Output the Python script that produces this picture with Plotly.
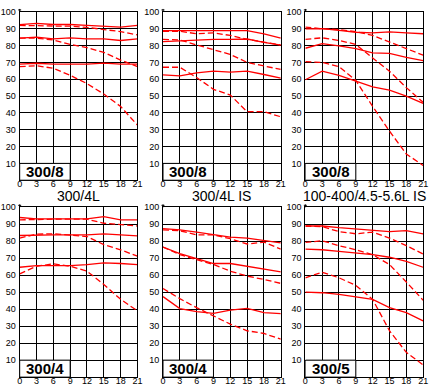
import plotly.graph_objects as go

# ---------------- data ----------------
x_pos = [0, 3, 6, 9, 12, 15, 18, 21]
x_ticks = [0, 3, 6, 9, 12, 15, 18, 21]
y_ticks = [10, 20, 30, 40, 50, 60, 70, 80, 90, 100]
lens_titles = ["300/4L", "300/4L IS", "100-400/4.5-5.6L IS"]
aperture_labels = ["300/8", "300/8", "300/8", "300/4", "300/4", "300/5"]

# Panel 1: 300/4L @ f/8
p1_s_hi = [92.4, 93.2, 92.5, 92.5, 92.0, 91.6, 91.0, 92.0]
p1_d_hi = [92.0, 92.0, 91.6, 91.5, 90.8, 89.5, 88.3, 86.3]
p1_s_mid = [84.4, 85.0, 84.0, 84.6, 84.0, 84.0, 83.0, 84.0]
p1_d_mid = [84.4, 84.4, 83.3, 80.7, 78.8, 75.9, 71.4, 67.5]
p1_s_lo = [69.0, 69.5, 69.0, 69.0, 69.0, 69.6, 69.0, 69.0]
p1_d_lo = [67.5, 68.0, 66.5, 62.3, 57.4, 51.2, 43.8, 32.7]

# Panel 2: 300/4L IS @ f/8
p2_s_hi = [88.9, 88.9, 89.3, 89.3, 89.1, 88.9, 87.0, 84.4]
p2_d_hi = [88.5, 88.5, 87.0, 87.5, 86.0, 83.7, 82.0, 80.4]
p2_s_mid = [82.3, 82.7, 83.5, 83.7, 83.7, 83.9, 81.9, 80.2]
p2_d_mid = [83.7, 83.3, 80.4, 77.4, 74.7, 70.0, 68.1, 65.8]
p2_s_lo = [62.6, 62.0, 63.8, 64.8, 64.2, 64.8, 62.8, 60.7]
p2_d_lo = [67.1, 67.1, 61.0, 54.0, 50.6, 40.7, 40.7, 37.7]

# Panel 3: 100-400/4.5-5.6L IS @ f/8
p3_s_hi = [89.9, 90.0, 89.0, 87.9, 87.5, 88.1, 87.5, 87.0]
p3_d_hi = [91.0, 90.0, 89.5, 88.3, 86.0, 81.9, 78.2, 74.3]
p3_s_mid = [78.4, 81.1, 79.8, 78.2, 75.7, 75.3, 73.0, 71.0]
p3_d_mid = [83.7, 84.6, 83.0, 80.7, 72.6, 64.8, 55.0, 46.3]
p3_s_lo = [59.7, 64.8, 62.3, 59.0, 55.4, 53.5, 50.0, 45.7]
p3_d_lo = [70.4, 70.0, 67.5, 59.3, 43.8, 29.2, 15.6, 8.8]

# Panel 4: 300/4L @ f/4
p4_s_hi = [94.0, 93.2, 93.2, 93.2, 93.2, 94.5, 92.6, 92.6]
p4_d_hi = [92.6, 93.0, 93.0, 93.0, 93.0, 90.6, 90.0, 89.0]
p4_s_mid = [83.4, 83.8, 83.8, 83.8, 83.8, 84.4, 83.8, 83.2]
p4_d_mid = [81.9, 84.2, 84.4, 83.4, 82.8, 78.0, 75.0, 71.2]
p4_s_lo = [64.7, 65.7, 65.7, 65.7, 66.3, 67.3, 66.9, 66.3]
p4_d_lo = [60.8, 65.3, 66.7, 65.3, 62.4, 54.6, 45.8, 39.0]

# Panel 5: 300/4L IS @ f/4
p5_s_hi = [87.5, 86.7, 85.4, 83.8, 82.5, 81.9, 80.5, 79.0]
p5_d_hi = [86.7, 86.2, 83.8, 83.8, 81.5, 78.4, 79.5, 75.4]
p5_s_mid = [76.6, 72.7, 69.8, 66.9, 66.9, 65.3, 63.7, 62.0]
p5_d_mid = [76.6, 72.1, 69.2, 66.3, 62.4, 59.5, 57.5, 55.2]
p5_s_lo = [47.4, 40.4, 38.6, 37.6, 39.4, 40.5, 38.0, 37.4]
p5_d_lo = [52.2, 46.2, 40.9, 36.0, 31.2, 27.3, 25.7, 22.4]

# Panel 6: 100-400/4.5-5.6L IS @ f/5
p6_s_hi = [89.0, 89.0, 88.0, 87.3, 86.7, 85.7, 86.3, 84.4]
p6_d_hi = [89.0, 88.6, 85.7, 84.4, 85.4, 81.9, 77.4, 72.5]
p6_s_mid = [75.4, 75.0, 74.0, 73.1, 72.1, 70.6, 68.2, 64.7]
p6_d_mid = [79.3, 80.3, 77.4, 75.0, 72.1, 66.3, 56.0, 45.3]
p6_s_lo = [50.0, 49.7, 48.7, 47.2, 45.8, 40.9, 38.0, 33.1]
p6_d_lo = [58.5, 61.8, 58.5, 54.0, 45.8, 27.3, 14.6, 7.2]

panels = [
    [p1_s_hi, p1_d_hi, p1_s_mid, p1_d_mid, p1_s_lo, p1_d_lo],
    [p2_s_hi, p2_d_hi, p2_s_mid, p2_d_mid, p2_s_lo, p2_d_lo],
    [p3_s_hi, p3_d_hi, p3_s_mid, p3_d_mid, p3_s_lo, p3_d_lo],
    [p4_s_hi, p4_d_hi, p4_s_mid, p4_d_mid, p4_s_lo, p4_d_lo],
    [p5_s_hi, p5_d_hi, p5_s_mid, p5_d_mid, p5_s_lo, p5_d_lo],
    [p6_s_hi, p6_d_hi, p6_s_mid, p6_d_mid, p6_s_lo, p6_d_lo],
]

# ---------------- layout ----------------
W, H = 435, 386
col_px = [(17, 137), (163, 283), (308, 428)]
row_px = [(7, 178), (205.5, 378)]

fig = go.Figure()
layout = dict(
    width=W, height=H,
    margin=dict(l=0, r=0, t=0, b=0),
    paper_bgcolor="white", plot_bgcolor="white",
    showlegend=False,
    font=dict(family="Liberation Sans, Arial, sans-serif", color="black"),
)
shapes = []
annotations = []

for i, curves in enumerate(panels):
    r, c = divmod(i, 3)
    n = i + 1
    xa = "x" if n == 1 else f"x{n}"
    ya = "y" if n == 1 else f"y{n}"
    x0p, x1p = col_px[c]
    y0p, y1p = row_px[r]
    layout["xaxis" if n == 1 else f"xaxis{n}"] = dict(
        domain=[x0p / W, x1p / W], range=[0, 21], anchor=ya,
        tickvals=x_ticks, ticktext=[str(v) for v in x_ticks],
        showgrid=True, gridcolor="black", gridwidth=1,
        showline=True, linecolor="black", linewidth=1, mirror=True,
        zeroline=False, ticks="", tickfont=dict(size=9),
        ticklabelstandoff=-5, fixedrange=True,
    )
    layout["yaxis" if n == 1 else f"yaxis{n}"] = dict(
        domain=[1 - y1p / H, 1 - y0p / H], range=[0, 100], anchor=xa,
        tickvals=y_ticks, ticktext=[str(v) for v in y_ticks],
        showgrid=True, gridcolor="black", gridwidth=1,
        showline=True, linecolor="black", linewidth=1, mirror=True,
        zeroline=False, ticks="", tickfont=dict(size=9),
        ticklabelstandoff=1, fixedrange=True,
    )
    for k, vals in enumerate(curves):
        fig.add_trace(go.Scatter(
            x=x_pos, y=vals, mode="lines", xaxis=xa, yaxis=ya,
            line=dict(color="#ff0000", width=1.3,
                      dash="solid" if k % 2 == 0 else "6px,3px"),
            hoverinfo="skip",
        ))
    # label box
    shapes.append(dict(type="rect", xref=xa, yref=ya, x0=0, x1=9, y0=0, y1=10,
                       fillcolor="white", line=dict(color="black", width=1),
                       layer="above"))
    annotations.append(dict(xref=xa, yref=ya, x=4.5, y=5, text=aperture_labels[i],
                            showarrow=False, xanchor="center", yanchor="middle",
                            font=dict(size=15, family="Liberation Sans, Arial, sans-serif",
                                      color="black", weight="bold")))
    # small tick above the y-axis top
    xp = x0p / W
    shapes.append(dict(type="line", xref="paper", yref="paper",
                       x0=xp, x1=xp, y0=1 - y0p / H, y1=1 - (y0p - 3) / H,
                       line=dict(color="black", width=1)))
    shapes.append(dict(type="line", xref="paper", yref="paper",
                       x0=xp - 1.5 / W, x1=xp + 1.5 / W,
                       y0=1 - (y0p - 2) / H, y1=1 - (y0p - 2) / H,
                       line=dict(color="black", width=1)))

for c, title in enumerate(lens_titles):
    x0p, x1p = col_px[c]
    annotations.append(dict(xref="paper", yref="paper", x=(x0p + x1p) / 2 / W,
                            y=1 - 194 / H, text=title, showarrow=False,
                            xanchor="center", yanchor="middle",
                            font=dict(size=14, family="Liberation Sans, Arial, sans-serif",
                                      color="black")))

layout["shapes"] = shapes
layout["annotations"] = annotations
fig.update_layout(**layout)
fig.write_html("out.html", config={"displayModeBar": False},
               post_script="document.body.style.margin='0';document.body.style.overflow='hidden';")
